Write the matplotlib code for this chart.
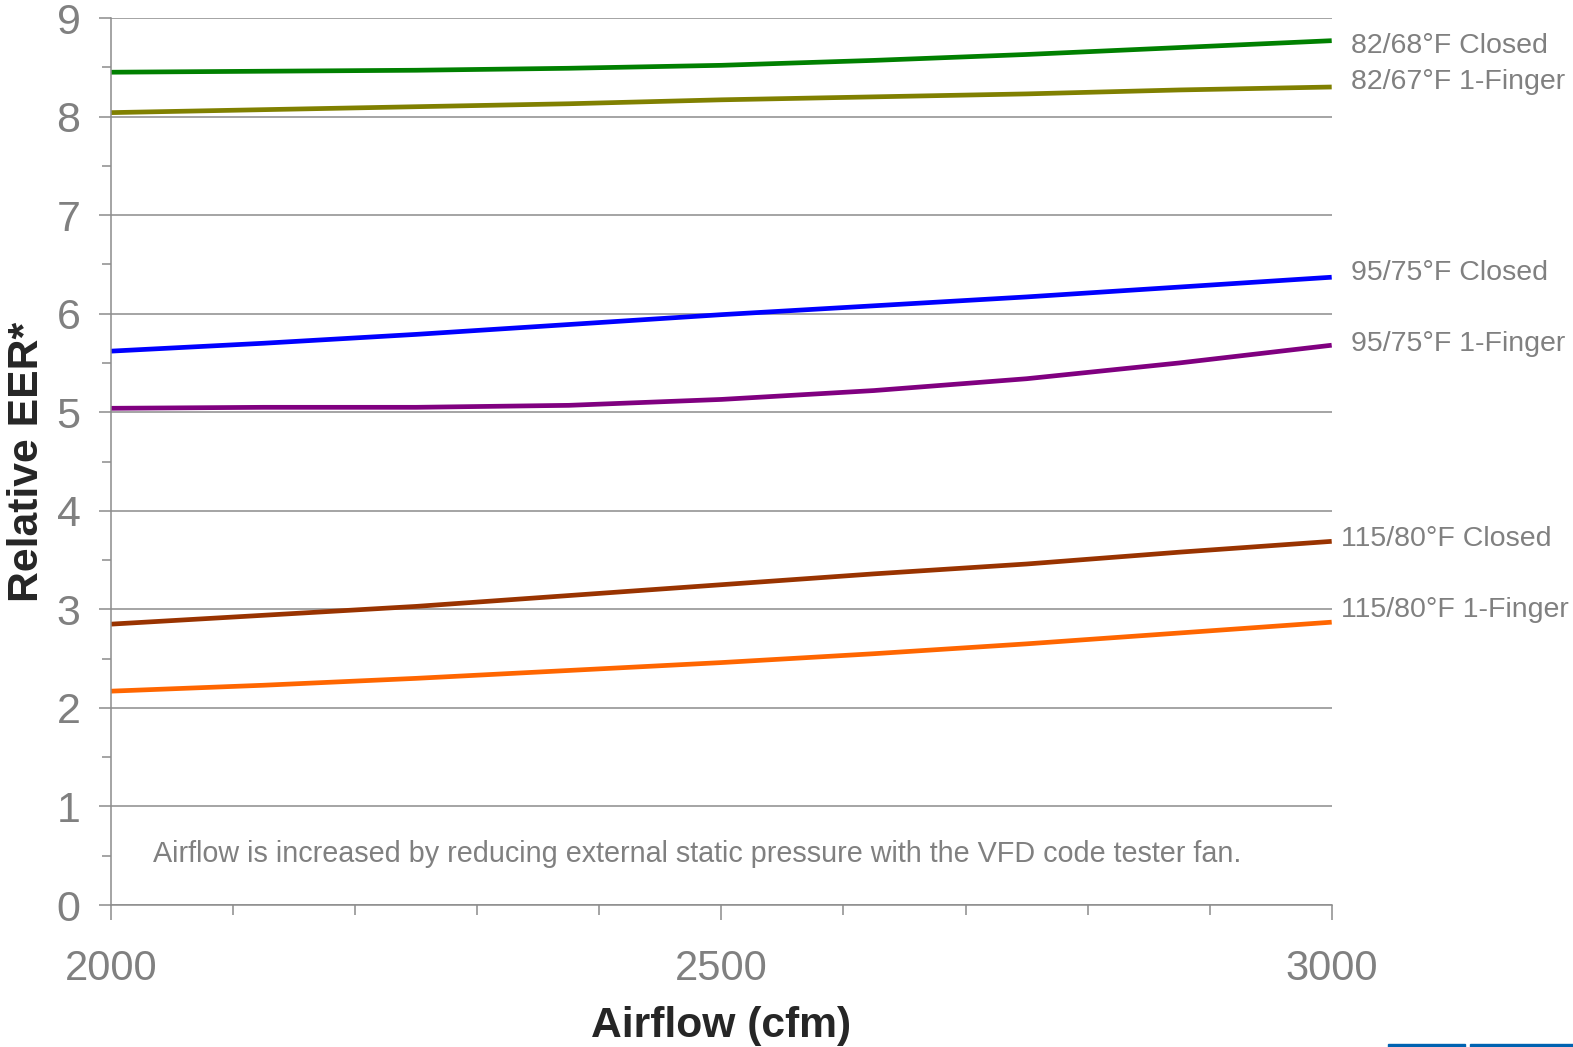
import matplotlib
matplotlib.use("Agg")
import numpy as np
import matplotlib.pyplot as plt
from matplotlib.patches import Rectangle

plt.rcParams['font.family'] = ['Liberation Sans', 'DejaVu Sans']

# airflow (cfm) and relative EER
airflow = [2000, 2125, 2250, 2375, 2500, 2625, 2750, 2875, 3000]
eer_82_68_closed = [8.45, 8.46, 8.47, 8.49, 8.52, 8.57, 8.63, 8.70, 8.77]
eer_82_67_finger = [8.04, 8.07, 8.10, 8.13, 8.17, 8.20, 8.23, 8.27, 8.30]
eer_95_75_closed = [5.62, 5.70, 5.79, 5.89, 5.99, 6.08, 6.17, 6.27, 6.37]
eer_95_75_finger = [5.04, 5.05, 5.05, 5.07, 5.13, 5.22, 5.34, 5.50, 5.68]
eer_115_80_closed = [2.85, 2.94, 3.03, 3.14, 3.25, 3.36, 3.46, 3.58, 3.69]
eer_115_80_finger = [2.17, 2.23, 2.30, 2.38, 2.46, 2.55, 2.65, 2.76, 2.87]

labels = ['82/68°F Closed', '82/67°F 1-Finger', '95/75°F Closed',
          '95/75°F 1-Finger', '115/80°F Closed', '115/80°F 1-Finger']
series = [eer_82_68_closed, eer_82_67_finger, eer_95_75_closed,
          eer_95_75_finger, eer_115_80_closed, eer_115_80_finger]
colors = ['#008000', '#808000', '#0000FF', '#800080', '#993300', '#FF6600']

# label placement (data coords)
label_x = [3016, 3016, 3016, 3016, 3008, 3008]
label_y = [8.72, 8.35, 6.41, 5.69, 3.71, 2.99]

note = 'Airflow is increased by reducing external static pressure with the VFD code tester fan.'

grey = '#808080'
fig = plt.figure(figsize=(15.73, 10.47), dpi=100)
ax = fig.add_axes([0.0706, 0.1356, 0.776, 0.8472])

for i in range(len(series)):
    ax.plot(airflow, series[i], color=colors[i], lw=3.4, solid_capstyle='butt')
    ax.text(label_x[i], label_y[i], labels[i], color=grey, fontsize=20.5,
            va='center', ha='left', clip_on=False)

ax.text(2034, 0.52, note, color=grey, fontsize=20.7, va='center', ha='left')

ax.set_xlim(2000, 3000)
ax.set_ylim(0, 9)
ax.set_yticks(np.arange(0, 10, 1))
ax.set_yticks(np.arange(0.5, 9, 1), minor=True)
ax.set_xticks([2000, 2500, 3000])
ax.set_xticks(np.arange(2100, 3000, 100), minor=True)

ax.grid(axis='y', which='major', color='#8c8c8c', lw=1.1)
ax.set_axisbelow(True)
for s in ['top', 'right']:
    ax.spines[s].set_visible(False)
for s in ['left', 'bottom']:
    ax.spines[s].set_color('#8c8c8c')
    ax.spines[s].set_linewidth(1.1)

ax.tick_params(axis='y', which='major', length=9, width=1.1, color='#8c8c8c',
               labelsize=31, labelcolor=grey, pad=13)
ax.tick_params(axis='y', which='minor', length=6.5, width=1.1, color='#8c8c8c')
ax.tick_params(axis='x', which='major', length=11, width=1.1, color='#8c8c8c',
               labelsize=30, labelcolor=grey, pad=21)
ax.tick_params(axis='x', which='minor', length=7.5, width=1.1, color='#8c8c8c')

ax.set_xlabel('Airflow (cfm)', fontsize=30.7, fontweight='bold', color='#262626', labelpad=12)
ax.set_ylabel('Relative EER*', fontsize=30.7, fontweight='bold', color='#262626')
ax.yaxis.label.set_va('center')
ax.yaxis.set_label_coords(-0.069, 0.5)

# footer bars from the slide
fig.patches.append(Rectangle((1388 / 1573, 0), 77 / 1573, 3 / 1047,
                             transform=fig.transFigure, color='#0063B1'))
fig.patches.append(Rectangle((1470 / 1573, 0), 103 / 1573, 3 / 1047,
                             transform=fig.transFigure, color='#0063B1'))

fig.savefig('out.png', dpi=100, facecolor='white')
